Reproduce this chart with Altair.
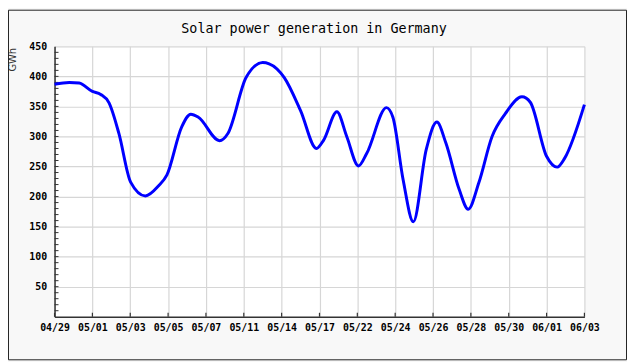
import altair as alt
import pandas as pd

chart_title = "Solar power generation in Germany"

# x labels (evenly spaced category ticks)
date_labels = ["04/29", "05/01", "05/03", "05/05", "05/07", "05/11", "05/14",
               "05/17", "05/22", "05/24", "05/26", "05/28", "05/30", "06/01", "06/03"]

# curve samples (position in label units, GWh)
pos = [0.0, 0.39, 0.65, 1.0, 1.22, 1.44, 1.70, 2.01, 2.40, 2.75, 2.97, 3.36, 3.60,
       3.80, 4.36, 4.58, 5.06, 5.50, 5.67, 6.07, 6.50, 6.92, 7.11, 7.46, 7.72, 8.03,
       8.25, 8.77, 8.94, 9.21, 9.48, 9.82, 10.10, 10.34, 10.69, 10.93, 11.21, 11.56,
       11.91, 12.35, 12.57, 13.00, 13.28, 13.48, 14.0]
gwh = [387, 390, 389, 375, 370, 356, 305, 224, 201, 218, 236, 316, 337, 332, 293,
       305, 398, 423, 421, 398, 343, 280, 294, 341, 300, 251, 272, 348, 332, 228,
       158, 278, 324, 289, 212, 179, 223, 300, 338, 366, 357, 267, 249, 264, 353]

y_major = [50, 100, 150, 200, 250, 300, 350, 400, 450]
y_minor = list(range(10, 450, 10))
x_ticks = list(range(len(date_labels)))

W, H = 535, 273
PL, PT, PR, PB = 47, 37, 43, 44

label_js = "[" + ",".join("'" + s + "'" for s in date_labels) + "][datum.value]"

X = alt.X("x:Q", scale=alt.Scale(domain=[0, 14], nice=False, zero=False),
          axis=alt.Axis(values=x_ticks, labelExpr=label_js, title=None, ticks=False,
                        grid=True, gridColor="#d6d6d6", gridWidth=1.2,
                        domainColor="#333333", domainWidth=1.5,
                        labelFont="DejaVu Sans Mono", labelFontWeight="bold",
                        labelFontSize=10, labelColor="#000000", labelPadding=6,
                        labelFlush=False, labelOverlap=False))
Y = alt.Y("y:Q", scale=alt.Scale(domain=[0, 450], nice=False),
          axis=alt.Axis(values=y_major, title="GWh", ticks=False, grid=True,
                        gridColor="#d6d6d6", gridWidth=1.2,
                        domainColor="#333333", domainWidth=1.5,
                        labelFont="DejaVu Sans Mono", labelFontWeight="bold",
                        labelFontSize=10, labelColor="#000000", labelPadding=8,
                        titleFont="DejaVu Sans", titleFontSize=10,
                        titleFontWeight="normal", titleColor="#333333",
                        titleAngle=-90, titleX=-42, titleY=13,
                        titleAlign="center", titleBaseline="middle"))

line_df = pd.DataFrame({"x": pos, "y": gwh})
minor_df = pd.DataFrame({"y": y_minor})
xt_df = pd.DataFrame({"x": x_ticks})
one = pd.DataFrame({"t": [chart_title]})

line = alt.Chart(line_df).mark_line(color="#0000ff", strokeWidth=3,
                                    interpolate="monotone").encode(x=X, y=Y)
minor = alt.Chart(minor_df).mark_rule(color="#333333", strokeWidth=1).encode(
    y=Y, x=alt.value(0), x2=alt.value(4))
xt = alt.Chart(xt_df).mark_rule(color="#333333", strokeWidth=1.2).encode(
    x=X, y=alt.value(H), y2=alt.value(H - 4))
border = alt.Chart(one).mark_rect(fill=None, stroke="#222222", strokeWidth=1).encode(
    x=alt.value(-PL + 0.5), x2=alt.value(W + PR - 0.5),
    y=alt.value(-PT + 0.5), y2=alt.value(H + PB - 0.5))
title = alt.Chart(one).mark_text(font="DejaVu Sans Mono", fontSize=13.5,
                                 color="#000000", align="center",
                                 baseline="alphabetic").encode(
    text="t:N", x=alt.value(262), y=alt.value(-13.5))

chart = alt.layer(border, minor, xt, line, title).properties(
    width=W, height=H,
    padding={"left": PL, "top": PT, "right": PR, "bottom": PB},
    autosize=alt.AutoSizeParams(type="none"),
    background="#f8f8f8",
).configure_view(fill="#ffffff", stroke=None)

chart.save("out.html", embed_options={"renderer": "svg", "actions": False})
